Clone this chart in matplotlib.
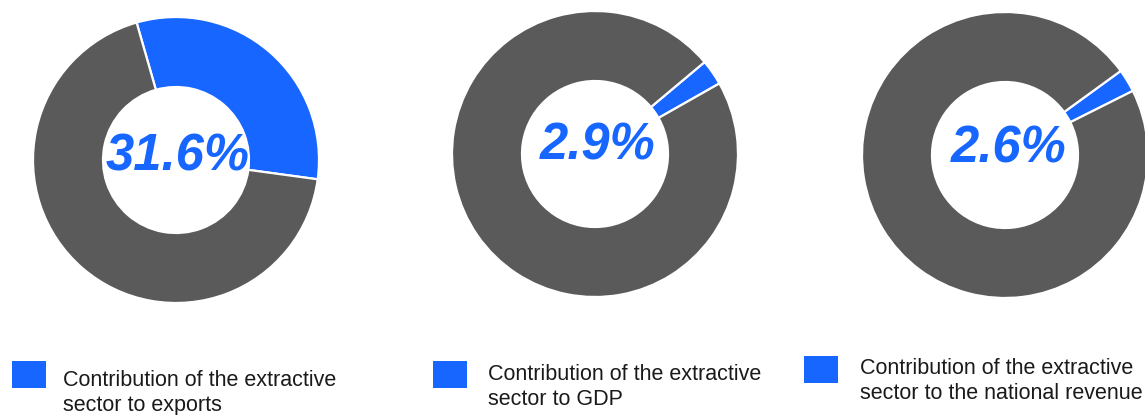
import matplotlib
matplotlib.use("Agg")
import matplotlib.pyplot as plt
from matplotlib.patches import Rectangle

# Data
shares = [31.6, 2.9, 2.6]
value_labels = ["31.6%", "2.9%", "2.6%"]
legend_labels = [
    "Contribution of the extractive\nsector to exports",
    "Contribution of the extractive\nsector to GDP",
    "Contribution of the extractive\nsector to the national revenue",
]

BLUE = "#1766FF"
GRAY = "#5A5A5A"
W, H = 1145, 415

# layout (pixel coordinates, y from top)
centers = [(176, 160), (595, 154), (1005, 155)]
start_angles = [106, 40, 36]
text_pos = [(178, 157), (598, 146), (1009, 149)]
squares = [(12, 361), (433, 361), (804, 356)]
legend_text = [(63, 393), (488, 387), (860, 381)]

fig = plt.figure(figsize=(W / 100, H / 100), dpi=100)
ax = fig.add_axes([0, 0, 1, 1])

for i, v in enumerate(shares):
    cx, cy = centers[i]
    ax.pie([v, 100 - v], colors=[BLUE, GRAY], startangle=start_angles[i],
           counterclock=False, radius=143, center=(cx, H - cy),
           wedgeprops=dict(width=70, edgecolor="white", linewidth=1.6))
    tx, ty = text_pos[i]
    ax.text(tx, H - ty, value_labels[i], color=BLUE, fontsize=36.5,
            fontweight="bold", fontstyle="italic", family="Liberation Sans",
            ha="center", va="center")
    sx, sy = squares[i]
    ax.add_patch(Rectangle((sx, H - sy - 27), 34, 27, facecolor=BLUE,
                           edgecolor="none"))
    lx, ly = legend_text[i]
    ax.text(lx, H - ly, legend_labels[i], color="#1a1a1a", fontsize=15.5,
            family="Liberation Sans", ha="left", va="center",
            linespacing=1.25)

ax.set_xlim(0, W)
ax.set_ylim(0, H)
ax.set_aspect("equal")
ax.axis("off")

fig.savefig("out.png", dpi=100)
